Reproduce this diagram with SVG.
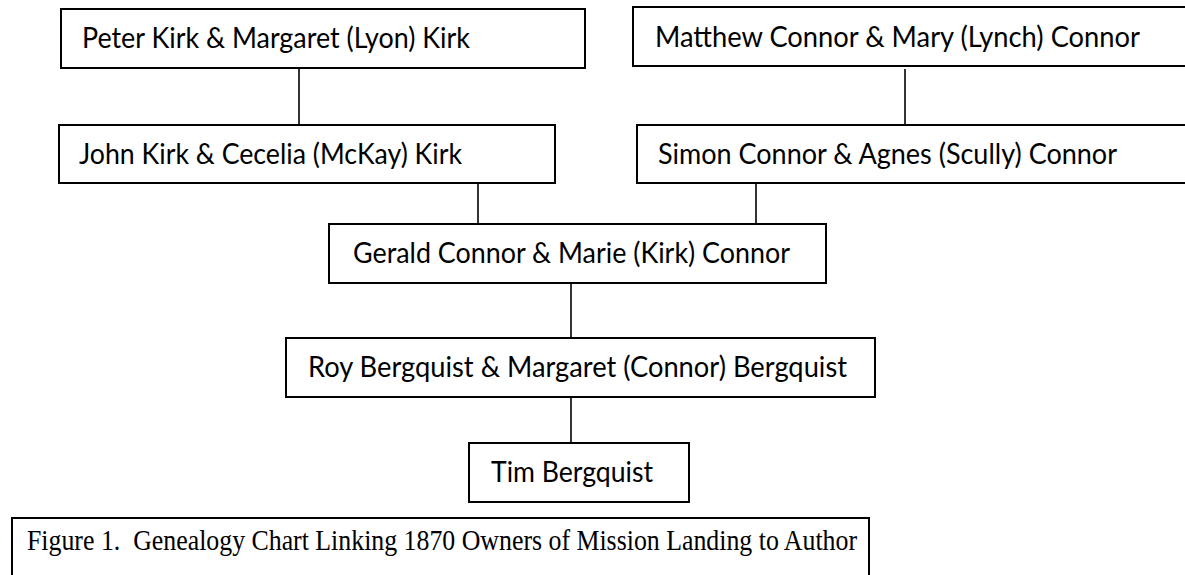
<svg xmlns="http://www.w3.org/2000/svg" width="1185" height="575" viewBox="0 0 1185 575">
<style>
.box{fill:#fff;stroke:#000;stroke-width:2}
.lbl{font-family:Lato,"Open Sans","Liberation Sans",sans-serif;font-size:29px;fill:#000}
.cap{font-family:"Liberation Serif","Times New Roman",serif;font-size:30px;fill:#000;white-space:pre}
.conn line{stroke:#000;stroke-width:1.6}
</style>
<rect width="1185" height="575" fill="#fff"/>
<g class="conn" id="connectors">
<line x1="299" y1="68" x2="299" y2="125"/>
<line x1="905" y1="69" x2="905" y2="125"/>
<line x1="478" y1="183" x2="478" y2="224"/>
<line x1="756" y1="183" x2="756" y2="224"/>
<line x1="571" y1="283" x2="571" y2="338"/>
<line x1="571" y1="397" x2="571" y2="443"/>
</g>
<g id="n1"><rect class="box" x="61" y="9" width="524" height="59"/><text class="lbl" x="82" y="48" textLength="388" lengthAdjust="spacingAndGlyphs">Peter Kirk &amp; Margaret (Lyon) Kirk</text></g>
<g id="n2"><rect class="box" x="633" y="7" width="560" height="59"/><text class="lbl" x="655" y="47" textLength="485" lengthAdjust="spacingAndGlyphs">Matthew Connor &amp; Mary (Lynch) Connor</text></g>
<g id="n3"><rect class="box" x="59" y="125" width="496" height="58"/><text class="lbl" x="79" y="164" textLength="383" lengthAdjust="spacingAndGlyphs">John Kirk &amp; Cecelia (McKay) Kirk</text></g>
<g id="n4"><rect class="box" x="637" y="125" width="556" height="58"/><text class="lbl" x="658" y="164" textLength="459" lengthAdjust="spacingAndGlyphs">Simon Connor &amp; Agnes (Scully) Connor</text></g>
<g id="n5"><rect class="box" x="329" y="224" width="497" height="59"/><text class="lbl" x="353" y="263" textLength="437" lengthAdjust="spacingAndGlyphs">Gerald Connor &amp; Marie (Kirk) Connor</text></g>
<g id="n6"><rect class="box" x="286" y="338" width="589" height="59"/><text class="lbl" x="308" y="377" textLength="539" lengthAdjust="spacingAndGlyphs">Roy Bergquist &amp; Margaret (Connor) Bergquist</text></g>
<g id="n7"><rect class="box" x="469" y="443" width="220" height="59"/><text class="lbl" x="491" y="482" textLength="162" lengthAdjust="spacingAndGlyphs">Tim Bergquist</text></g>
<g id="caption"><rect class="box" x="12" y="518" width="857" height="70"/><text class="cap" x="27" y="550" textLength="830" lengthAdjust="spacingAndGlyphs">Figure 1.  Genealogy Chart Linking 1870 Owners of Mission Landing to Author</text></g>
</svg>
